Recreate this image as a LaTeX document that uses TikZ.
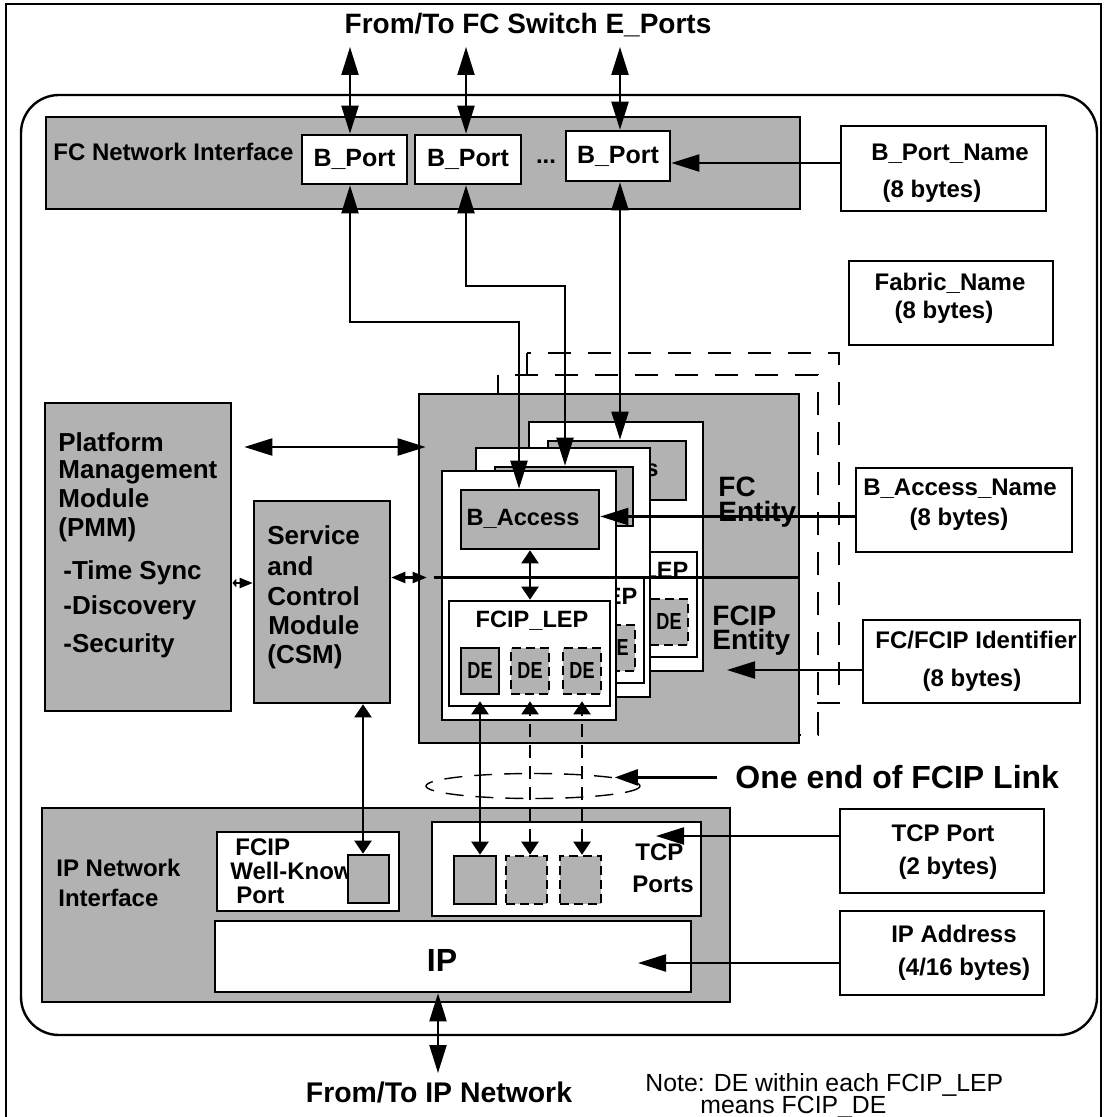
\documentclass[tikz,border=0pt]{standalone}
\usepackage{fontspec}
\setmainfont{Liberation Sans}
\usetikzlibrary{arrows.meta,calc,shapes.geometric}
\definecolor{panelgray}{RGB}{178,178,178}
% bold text at a given size
\newcommand\bsz[1]{\bfseries\fontsize{#1}{#1}\selectfont}
% condensed data-engine label
\newcommand\delabel{\scalebox{0.78}[1]{DE}}
% rectangle node from corner (x1,y1) to (x2,y2)
\newcommand\rbox[7]{\node[#6, minimum width={((#4)-(#2))*0.5pt}, minimum height={((#5)-(#3))*0.5pt}] (#1) at ({((#2)+(#4))/2},{((#3)+(#5))/2}) {#7};}
% one FC/FCIP entity card: name, origin x, origin y, B_Access label x offset, FCIP_LEP label x offset
\newcommand\card[5]{%
  \rbox{#1}{#2}{#3}{#2+174}{#3+249}{wbox}{}
  \rbox{#1acc}{#2+19}{#3+19}{#2+157}{#3+78}{gbox}{}
  \node[txt, font=\bsz{11.8}, anchor=base] (#1acct) at ({#2+#4},{#3+54}) {B\_Access};
  \rbox{#1lep}{#2+7}{#3+130}{#2+168}{#3+235}{wbox}{}
  \node[txt, font=\bsz{11.8}, anchor=base] (#1lept) at ({#2+#5},{#3+156}) {FCIP\_LEP};
  \rbox{#1de1}{#2+19}{#3+177}{#2+57}{#3+223}{gbox, font=\bsz{11.6}}{\delabel}
  \rbox{#1de2}{#2+69}{#3+177}{#2+107}{#3+223}{dgbox, font=\bsz{11.6}}{\delabel}
  \rbox{#1de3}{#2+121}{#3+177}{#2+159}{#3+223}{dgbox, font=\bsz{11.6}}{\delabel}
}
\begin{document}
\begin{tikzpicture}[x=0.5pt,y=-0.5pt,
  wbox/.style={draw, line width=1.3pt, fill=white, inner sep=0pt, rectangle},
  gbox/.style={wbox, fill=panelgray},
  dgbox/.style={gbox, dash pattern=on 4.5pt off 2.5pt},
  dashframe/.style={line width=1pt, dash pattern=on 11.5pt off 8.5pt},
  wire/.style={line width=1.1pt},
  arrowR/.style={wire, -{Triangle[length=14pt,width=8.5pt]}},
  arrowRR/.style={wire, {Triangle[length=14pt,width=8.5pt]}-{Triangle[length=14pt,width=8.5pt]}},
  arrowSS/.style={wire, {Triangle[length=6.5pt,width=8.5pt]}-{Triangle[length=6.5pt,width=8.5pt]}},
  arrowMM/.style={wire, {Triangle[length=7pt,width=5.5pt]}-{Triangle[length=7pt,width=5.5pt]}},
  arrowTS/.style={wire, {Triangle[length=2pt,width=4pt]}-{Triangle[length=6.5pt,width=5pt]}},
  arrowLink/.style={wire, -{Triangle[length=11.5pt,width=8pt]}},
  txt/.style={inner sep=0pt, font=\bsz{12}},
]
\useasboundingbox (0,0) rectangle (1103,1117);

% outer frame and rounded gateway outline
\draw[line width=1.4pt] (6,1117) -- (6,4) -- (1101,4) -- (1101,1117);
\draw[line width=1.2pt, rounded corners=19pt] (21,95) rectangle (1097,1035);

\node[txt, font=\bsz{14}, anchor=base] (fcsw) at (528,34) {From/To FC Switch E\_Ports};

% FC network interface with its B_Ports
\rbox{fcni}{46}{117}{800}{209}{gbox}{}
\node[txt, anchor=base west] (fcnil) at (53,161) {FC Network Interface};
\rbox{bp1}{302}{135}{407}{184}{wbox, font=\bsz{12.5}}{B\_Port}
\rbox{bp2}{415}{135}{521}{184}{wbox, font=\bsz{12.5}}{B\_Port}
\rbox{bp3}{566}{131}{670}{181}{wbox, font=\bsz{12.5}}{B\_Port}
\node[txt, anchor=base] (dots) at (546,164) {...};

\coordinate (e1) at (350,47);
\coordinate (e2) at (466,47);
\coordinate (e3) at (620,47);
\draw[arrowRR] (e1) -- (e1 |- bp1.north);
\draw[arrowRR] (e2) -- (e2 |- bp2.north);
\draw[arrowRR] (e3) -- (e3 |- bp3.north);

% name boxes on the right
\rbox{bpn}{841}{126}{1046}{211}{wbox}{}
\node[txt, anchor=base] (bpn1) at (950,161) {B\_Port\_Name};
\node[txt, anchor=base] (bpn2) at (932,198) {(8 bytes)};
\coordinate (lvlA) at (0,163);
\draw[arrowR] (bpn.west |- lvlA) -- (bp3.east |- lvlA);

\rbox{fab}{849}{261}{1053}{345}{wbox}{}
\node[txt, anchor=base] (fab1) at (950,291) {Fabric\_Name};
\node[txt, anchor=base] (fab2) at (944,319) {(8 bytes)};

% stacked FC/FCIP entity instances
\draw[dashframe] (527,353) rectangle (839,703);
\draw[dashframe] (498,375) rectangle (818,735);
\rbox{fce}{419}{394}{799}{743}{gbox}{}
\card{cc}{529}{422}{73}{103}
\card{cb}{476}{448}{73}{105}
\card{ca}{442}{471}{81}{90}

\node[txt, font=\bsz{14}, anchor=base west] (fcl1) at (718,496) {FC};
\node[txt, font=\bsz{14}, anchor=base west] (fcl2) at (718,521) {Entity};
\node[txt, font=\bsz{14}, anchor=base west] (fil1) at (712,625) {FCIP};
\node[txt, font=\bsz{14}, anchor=base west] (fil2) at (712,649) {Entity};

\coordinate (t1) at (519,322);
\coordinate (t2) at (565,286);
\draw[arrowRR] (e1 |- bp1.south) -- (e1 |- t1) -- (t1) -- (t1 |- caacc.north);
\draw[arrowRR] (e2 |- bp2.south) -- (e2 |- t2) -- (t2) -- (t2 |- cbacc.north);
\draw[arrowRR] (e3 |- bp3.south) -- (e3 |- ccacc.north);
\draw[arrowSS] (caacc.south) -- (caacc.south |- calep.north);

\rbox{ban}{856}{468}{1072}{552}{wbox}{}
\node[txt, anchor=base] (ban1) at (960,495) {B\_Access\_Name};
\node[txt, anchor=base] (ban2) at (959,525) {(8 bytes)};
\coordinate (lvlB) at (0,516.5);
\draw[arrowR] (ban.west |- lvlB) -- (caacc.east |- lvlB);

\rbox{fid}{863}{620}{1080}{703}{wbox}{}
\node[txt, anchor=base] (fid1) at (976,648) {FC/FCIP Identifier};
\node[txt, anchor=base] (fid2) at (972,686) {(8 bytes)};
\coordinate (fidtip) at (727,670);
\draw[arrowR] (fid.west |- fidtip) -- (fidtip);

% management and control modules
\rbox{pmm}{45}{403}{231}{711}{gbox}{}
\node[txt, font=\bsz{13}, anchor=base west] (pm1) at (58,451) {Platform};
\node[txt, font=\bsz{13}, anchor=base west] (pm2) at (58,478) {Management};
\node[txt, font=\bsz{13}, anchor=base west] (pm3) at (58,507) {Module};
\node[txt, font=\bsz{13}, anchor=base west] (pm4) at (58,536) {(PMM)};
\node[txt, font=\bsz{13}, anchor=base west] (pm5) at (63,579) {-Time Sync};
\node[txt, font=\bsz{13}, anchor=base west] (pm6) at (63,614) {-Discovery};
\node[txt, font=\bsz{13}, anchor=base west] (pm7) at (63,652) {-Security};

\rbox{csm}{254}{501}{390}{703}{gbox}{}
\node[txt, font=\bsz{13}, anchor=base west] (cs1) at (267,544) {Service};
\node[txt, font=\bsz{13}, anchor=base west] (cs2) at (267,575) {and};
\node[txt, font=\bsz{13}, anchor=base west] (cs3) at (267,605) {Control};
\node[txt, font=\bsz{13}, anchor=base west] (cs4) at (268,634) {Module};
\node[txt, font=\bsz{13}, anchor=base west] (cs5) at (267,663) {(CSM)};

\coordinate (lvlP) at (0,447);
\draw[arrowRR] ([xshift=6pt]pmm.east |- lvlP) -- ([xshift=4pt]fce.west |- lvlP);
\coordinate (lvlQ) at (0,583);
\draw[arrowTS] (pmm.east |- lvlQ) -- (csm.west |- lvlQ);
\coordinate (lvlD) at (0,577.5);
\draw[arrowMM] (csm.east |- lvlD) -- ($(fce.west |- lvlD)+(9,0)$);
\draw[wire] ($(fce.west |- lvlD)+(16,0)$) -- (fce.east |- lvlD);

% IP network interface
\rbox{ipni}{42}{808}{730}{1002}{gbox}{}
\node[txt, anchor=base west] (ipn1) at (56,876) {IP Network};
\node[txt, anchor=base west] (ipn2) at (58,906) {Interface};

\rbox{wk}{217}{832}{399}{911}{wbox}{}
\node[txt, anchor=base west] (wk1) at (235,855) {FCIP};
\node[txt, anchor=base west] (wk2) at (230,879) {Well-Know};
\node[txt, anchor=base west] (wk3) at (236,903) {Port};
\rbox{wkp}{348}{855}{389}{903}{gbox}{}

\rbox{tcpb}{432}{822}{701}{916}{wbox}{}
\rbox{tp1}{454}{856}{496}{904}{gbox}{}
\rbox{tp2}{506}{856}{547}{904}{dgbox}{}
\rbox{tp3}{560}{856}{601}{904}{dgbox}{}
\node[txt, anchor=base west] (tcp1) at (635,860) {TCP};
\node[txt, anchor=base west] (tcp2) at (632,892) {Ports};

\rbox{ip}{215}{921}{691}{992}{wbox}{}
\node[txt, font=\bsz{16}, anchor=base] (iplbl) at (442,971) {IP};

\draw[arrowSS] ($(wkp.north)+(-5.5,0)$) -- ($(wkp.north |- csm.south)+(-5.5,0)$);

% FCIP link: one TCP connection per data engine
\node[draw, ellipse, minimum width=107pt, minimum height=12.5pt, inner sep=0pt,
      line width=0.7pt, dash pattern=on 9pt off 6pt] (lnk) at (533,786) {};
\draw[arrowSS] (cade1.south |- tp1.north) -- ($(cade1.south |- calep.south)+(0,-6)$);
\draw[arrowSS, dash pattern=on 6.5pt off 4pt] (cade2.south |- tp2.north) -- ($(cade2.south |- calep.south)+(0,-6)$);
\draw[arrowSS, dash pattern=on 6.5pt off 4pt] (cade3.south |- tp3.north) -- ($(cade3.south |- calep.south)+(0,-6)$);

\node[txt, font=\bsz{16}, anchor=base west] (onee) at (735,788) {One end of FCIP Link};
\draw[arrowLink] ($(onee.west |- lnk.6)+(-18,0)$) -- (lnk.6);

\rbox{tcpn}{840}{809}{1044}{893}{wbox}{}
\node[txt, anchor=base] (tcpn1) at (943,841) {TCP Port};
\node[txt, anchor=base] (tcpn2) at (948,874) {(2 bytes)};
\coordinate (tcptip) at (656,836);
\draw[arrowR] (tcpn.west |- tcptip) -- (tcptip);

\rbox{ipa}{840}{911}{1044}{995}{wbox}{}
\node[txt, anchor=base] (ipa1) at (954,942) {IP Address};
\node[txt, anchor=base] (ipa2) at (964,975) {(4/16 bytes)};
\coordinate (iptip) at (638,963);
\draw[arrowR] (ipa.west |- iptip) -- (iptip);

\coordinate (ipnet) at (438,1073);
\draw[arrowRR] (ipnet |- ip.south) -- (ipnet);
\node[txt, font=\bsz{14.2}, anchor=base] (ipnetl) at (439,1102) {From/To IP Network};

\node[inner sep=0pt, font=\fontsize{12.4}{12.4}\selectfont, anchor=base west] (note1) at (645,1091) {Note: DE within each FCIP\_LEP};
\node[inner sep=0pt, font=\fontsize{12.4}{12.4}\selectfont, anchor=base west] (note2) at (700,1113) {means FCIP\_DE};
\end{tikzpicture}
\end{document}
